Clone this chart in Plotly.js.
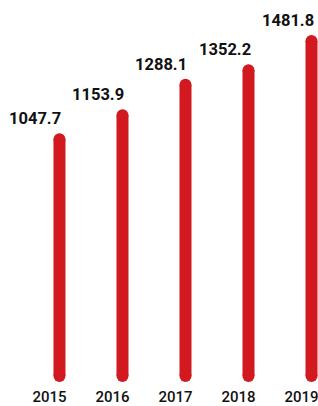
<!DOCTYPE html>
<html><head><meta charset="utf-8">
<script src="https://cdn.plot.ly/plotly-3.0.1.min.js"></script>
<style>html,body{margin:0;padding:0;background:#fff}#c{width:318px;height:406px}</style>
</head><body><div id="c"></div>
<script>
const years = ["2015","2016","2017","2018","2019"];
const values = [1047.7, 1153.9, 1288.1, 1352.2, 1481.8];
const labels = ["1047.7","1153.9","1288.1","1352.2","1481.8"];
const red = "#d1191f";

const xs = [], ys = [];
years.forEach((y,i)=>{ xs.push(y,y,null); ys.push(0,values[i],null); });

const trace = {
  type:"scatter", mode:"lines+markers", x:xs, y:ys,
  line:{color:red, width:12},
  marker:{color:red, size:12, line:{width:0}},
  cliponaxis:false, hoverinfo:"skip", connectgaps:false
};

const annotations = years.map((y,i)=>({
  x:i, y:values[i], xref:"x", yref:"y", text:"<b>"+labels[i]+"</b>", showarrow:false,
  xanchor:"right", yanchor:"bottom", xshift:4, yshift:9,
  font:{family:"Roboto, Liberation Sans, sans-serif", size:16.5, color:"#111"}
}));

const layout = {
  width:318, height:406, margin:{l:0,r:0,t:10,b:30},
  paper_bgcolor:"#fff", plot_bgcolor:"#fff", showlegend:false,
  xaxis:{type:"category", categoryorder:"array", categoryarray:years, range:[-0.944,4.103], showgrid:false, zeroline:false,
    showline:false, ticks:"", ticklabelshift:-10, ticklabelstandoff:10,
    tickfont:{family:"Roboto, Liberation Sans, sans-serif", size:15, color:"#111", weight:500}},
  yaxis:{range:[0,1619], visible:false, showgrid:false, zeroline:false},
  annotations:annotations
};
Plotly.newPlot("c",[trace],layout,{displayModeBar:false,staticPlot:true});
</script></body></html>
